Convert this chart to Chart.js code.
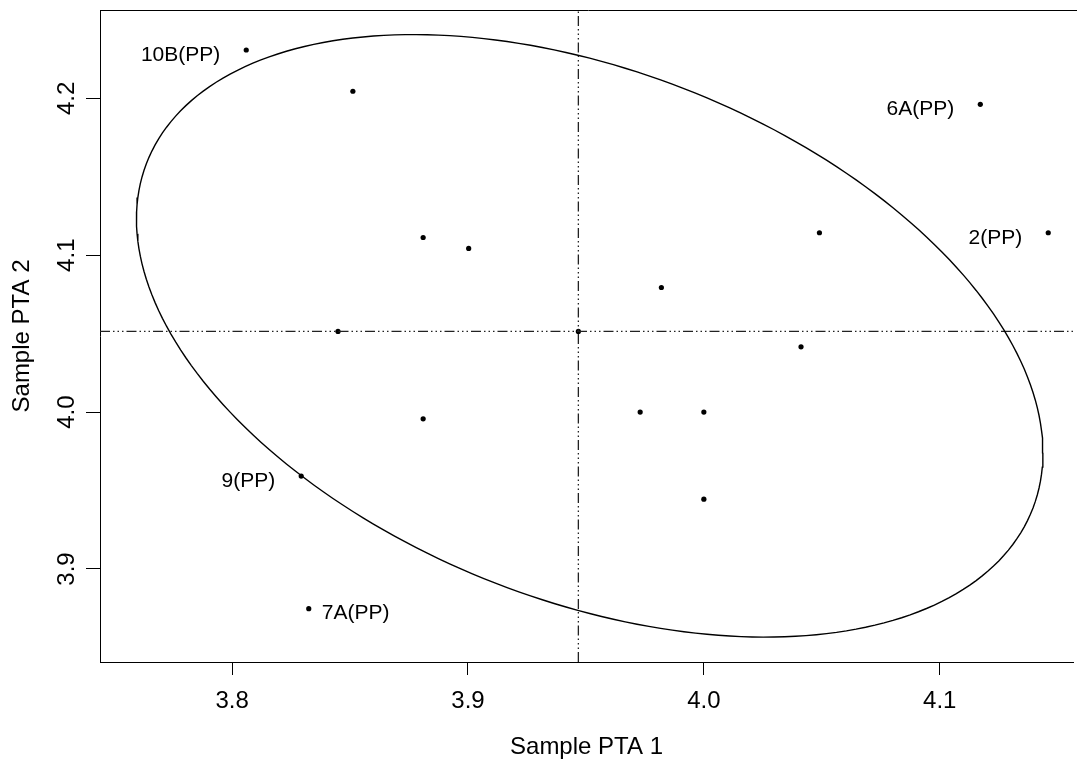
<!DOCTYPE html>
<html>
<head>
<meta charset="utf-8">
<title>Sample PTA</title>
<script src="https://cdn.jsdelivr.net/npm/chart.js@4.4.1/dist/chart.umd.min.js"></script>
<style>
  html, body { margin: 0; padding: 0; background: #fff; overflow: hidden; }
  canvas { display: block; }
</style>
</head>
<body>
<canvas id="ptaChart" width="1077" height="763"></canvas>
<script>
// Sample values
const sampleX = [3.806, 3.8512, 4.1172, 4.146, 4.049, 3.881, 3.9003, 3.982, 3.9468, 3.8449, 4.0412, 3.973, 4.0, 4.0, 3.881, 3.8293, 3.8325];
const sampleY = [4.2308, 4.2045, 4.1962, 4.1143, 4.1143, 4.1113, 4.1043, 4.0794, 4.0514, 4.0514, 4.0416, 4.0, 4.0, 3.9445, 3.9957, 3.9592, 3.8747];
const sampleNames = ['10B(PP)', '', '6A(PP)', '2(PP)', '', '', '', '', '', '', '', '', '', '', '', '9(PP)', '7A(PP)'];
const nameSide = ['left', '', 'left', 'left', '', '', '', '', '', '', '', '', '', '', '', 'left', 'right'];

// Tick labels
const xTicks = [3.8, 3.9, 4.0, 4.1];
const yTicks = [3.9, 4.0, 4.1, 4.2];

// Reference lines (medians) and ellipse
const medianX = 3.9468;
const medianY = 4.0514;
const ellipseCentre = [3.9516, 4.0486];
const ellipseRadius = [0.19215, 0.19203];
const ellipsePhase = 1.9693;

// Axis ranges
const xRange = [3.744, 4.1565];
const yRange = [3.8407, 4.2563];

const FONT = "'Liberation Sans', Arial, Helvetica, sans-serif";

function ellipsePoints() {
    const pts = [];
    for (let i = 0; i <= 240; i++) {
        const t = i / 240 * Math.PI * 2;
        pts.push({
            x: ellipseCentre[0] + ellipseRadius[0] * Math.cos(t),
            y: ellipseCentre[1] + ellipseRadius[1] * Math.cos(t - ellipsePhase)
        });
    }
    return pts;
}

// box, rotated y tick labels and sample names
const extrasPlugin = {
    id: 'extras',
    afterDraw(chart) {
        const ctx = chart.ctx;
        const area = chart.chartArea;
        const ys = chart.scales.y;

        ctx.save();
        ctx.strokeStyle = '#000';
        ctx.lineWidth = 1;
        ctx.beginPath();
        ctx.moveTo(area.left, area.top + 0.5);
        ctx.lineTo(chart.width, area.top + 0.5);
        ctx.stroke();

        // y tick labels read upward like R
        ctx.fillStyle = '#000';
        ctx.font = `24px ${FONT}`;
        ctx.textAlign = 'center';
        ctx.textBaseline = 'middle';
        yTicks.forEach(v => {
            const py = ys.getPixelForValue(v);
            ctx.save();
            ctx.translate(67, py);
            ctx.rotate(-Math.PI / 2);
            ctx.fillText(v.toFixed(1), 0, 0);
            ctx.restore();
        });

        // sample names next to their points
        const meta = chart.getDatasetMeta(3);
        ctx.font = `21px ${FONT}`;
        meta.data.forEach((pt, i) => {
            if (!sampleNames[i]) return;
            if (nameSide[i] === 'left') {
                ctx.textAlign = 'right';
                ctx.fillText(sampleNames[i], pt.x - 26, pt.y + 5);
            } else {
                ctx.textAlign = 'left';
                ctx.fillText(sampleNames[i], pt.x + 13, pt.y + 5);
            }
        });
        ctx.restore();
    }
};

function renderChart() {
    const ctx = document.getElementById('ptaChart').getContext('2d');
    const dash = [10, 3, 1.5, 3, 1.5, 3, 1.5, 3];

    new Chart(ctx, {
        type: 'scatter',
        data: {
            datasets: [
                {
                    // ellipse
                    data: ellipsePoints(),
                    showLine: true,
                    borderColor: '#000',
                    borderWidth: 1.4,
                    pointRadius: 0,
                    tension: 0
                },
                {
                    data: [{x: medianX, y: yRange[0]}, {x: medianX, y: yRange[1]}],
                    showLine: true,
                    borderColor: '#222',
                    borderWidth: 1.3,
                    borderDash: dash,
                    pointRadius: 0
                },
                {
                    data: [{x: xRange[0], y: medianY}, {x: xRange[1], y: medianY}],
                    showLine: true,
                    borderColor: '#222',
                    borderWidth: 1.3,
                    borderDash: dash,
                    pointRadius: 0
                },
                {
                    data: sampleX.map((x, i) => ({x: x, y: sampleY[i]})),
                    backgroundColor: '#000',
                    borderColor: '#000',
                    pointRadius: 2.6,
                    borderWidth: 0
                }
            ]
        },
        options: {
            responsive: false,
            animation: false,
            devicePixelRatio: 1,
            layout: { padding: { top: 10, right: 0, left: 0, bottom: 0 } },
            plugins: {
                legend: { display: false },
                tooltip: { enabled: false }
            },
            scales: {
                x: {
                    type: 'linear',
                    min: xRange[0],
                    max: xRange[1],
                    afterFit: (scale) => { scale.height = 101; },
                    afterBuildTicks: (scale) => { scale.ticks = xTicks.map(v => ({value: v})); },
                    grid: { drawOnChartArea: false, tickLength: 13, tickColor: '#000', tickWidth: 1 },
                    border: { color: '#000', width: 1 },
                    ticks: {
                        color: '#000',
                        font: { family: FONT, size: 24 },
                        padding: 12,
                        maxRotation: 0,
                        callback: (v) => Number(v).toFixed(1)
                    },
                    title: {
                        display: true,
                        text: 'Sample PTA 1',
                        color: '#000',
                        font: { family: FONT, size: 24 },
                        padding: { top: 0, bottom: 1 }
                    }
                },
                y: {
                    type: 'linear',
                    min: yRange[0],
                    max: yRange[1],
                    afterFit: (scale) => { scale.width = 100; },
                    afterBuildTicks: (scale) => { scale.ticks = yTicks.map(v => ({value: v})); },
                    grid: { drawOnChartArea: false, tickLength: 14, tickColor: '#000', tickWidth: 1 },
                    border: { color: '#000', width: 1 },
                    ticks: { display: false },
                    title: {
                        display: true,
                        text: 'Sample PTA 2',
                        color: '#000',
                        font: { family: FONT, size: 24 },
                        padding: { top: 8, bottom: 0 }
                    }
                }
            }
        },
        plugins: [extrasPlugin]
    });
}

document.addEventListener('DOMContentLoaded', renderChart);
</script>
</body>
</html>
